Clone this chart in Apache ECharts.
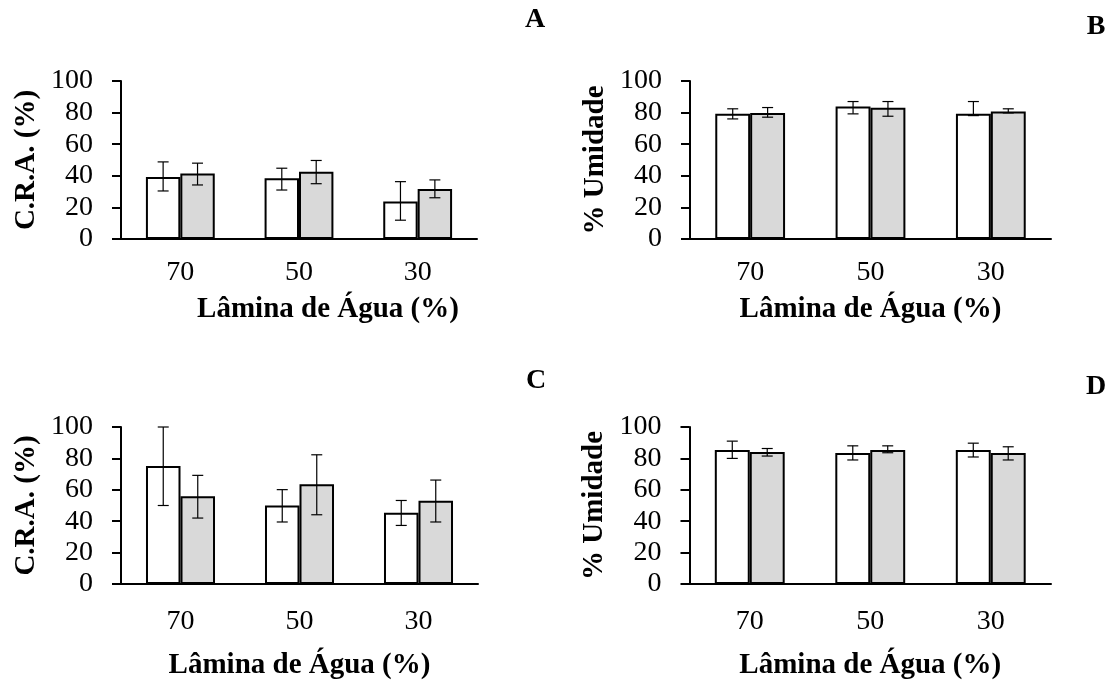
<!DOCTYPE html>
<html><head><meta charset="utf-8">
<script src="https://cdn.jsdelivr.net/npm/echarts@6/dist/echarts.min.js"></script>
<style>html,body{margin:0;padding:0;background:#fff}#c{width:1110px;height:681px}</style>
</head><body><div id="c"></div><script>
// ---- data ----
const categories = ['70', '50', '30'];
const yMin = 0, yMax = 100, yStep = 20;

// Panel A – C.R.A. (%)
const aWhite = [39.3, 38.4, 23.8];
const aWhiteErr = [[30.4, 48.8], [31.0, 44.8], [11.9, 36.3]];
const aGray = [41.4, 42.5, 31.6];
const aGrayErr = [[34.2, 48.0], [35.0, 49.7], [26.1, 37.4]];

// Panel B – % Umidade
const bWhite = [79.2, 83.9, 79.2];
const bWhiteErr = [[76.0, 82.4], [79.2, 87.0], [78.1, 87.0]];
const bGray = [79.8, 83.0, 80.7];
const bGrayErr = [[77.1, 83.2], [77.7, 87.0], [79.8, 82.4]];

// Panel C – C.R.A. (%)
const cWhite = [75.1, 50.0, 45.4];
const cWhiteErr = [[50.0, 100.0], [39.5, 60.1], [37.3, 53.2]];
const cGray = [55.9, 63.5, 53.0];
const cGrayErr = [[42.0, 69.2], [44.1, 82.3], [39.5, 66.2]];

// Panel D – % Umidade
const dWhite = [85.3, 83.4, 85.3];
const dWhiteErr = [[80.0, 91.0], [79.0, 88.0], [80.9, 89.7]];
const dGray = [84.0, 85.3, 83.4];
const dGrayErr = [[81.5, 86.3], [83.6, 88.0], [79.0, 87.4]];

const xTitle = 'Lâmina de Água (%)';
const yTitleCRA = 'C.R.A. (%)';
const yTitleUmid = '% Umidade';
const panelLetters = ['A', 'B', 'C', 'D'];

// ---- layout / style ----
const FONT = "'Liberation Serif', 'Times New Roman', serif";
const grids = [
  {left: 121, top: 81, width: 356, height: 158},
  {left: 690, top: 81, width: 361, height: 158},
  {left: 121, top: 427, width: 357, height: 158.5},
  {left: 689.5, top: 427, width: 361.5, height: 158.5}
];
const panels = [
  {white: aWhite, whiteErr: aWhiteErr, gray: aGray, grayErr: aGrayErr, yName: yTitleCRA, nameGap: 56, namePad: [0, 0, 0, 58], labelMargin: 20},
  {white: bWhite, whiteErr: bWhiteErr, gray: bGray, grayErr: bGrayErr, yName: yTitleUmid, nameGap: 56, namePad: [0, 0, 0, 0], labelMargin: 20},
  {white: cWhite, whiteErr: cWhiteErr, gray: cGray, grayErr: cGrayErr, yName: yTitleCRA, nameGap: 67, namePad: [0, 0, 0, 0], labelMargin: 24},
  {white: dWhite, whiteErr: dWhiteErr, gray: dGray, grayErr: dGrayErr, yName: yTitleUmid, nameGap: 67, namePad: [0, 0, 0, 0], labelMargin: 24}
];
const letterPos = [[535, 20], [1096, 27], [536, 381], [1096, 387]];

const axisLineStyle = {color: '#000', width: 2};

function errRender(sign) {
  return function (params, api) {
    const idx = api.value(0);
    const lo = api.coord([idx, api.value(1)]);
    const hi = api.coord([idx, api.value(2)]);
    const bw = api.size([1, 0])[0];
    const x = lo[0] + sign * bw * 0.145;
    const cap = 5.5;
    const st = {stroke: '#000', lineWidth: 1.2};
    return {type: 'group', children: [
      {type: 'line', shape: {x1: x, y1: lo[1], x2: x, y2: hi[1]}, style: st},
      {type: 'line', shape: {x1: x - cap, y1: hi[1], x2: x + cap, y2: hi[1]}, style: st},
      {type: 'line', shape: {x1: x - cap, y1: lo[1], x2: x + cap, y2: lo[1]}, style: st}
    ]};
  };
}

const xAxes = [], yAxes = [], series = [];
panels.forEach((p, i) => {
  xAxes.push({
    type: 'category', gridIndex: i, data: categories,
    axisLine: {lineStyle: axisLineStyle},
    axisTick: {length: 9, lineStyle: axisLineStyle},
    axisLabel: {fontSize: 28, fontFamily: FONT, color: '#000', margin: p.labelMargin},
    name: xTitle, nameLocation: 'middle', nameGap: p.nameGap,
    nameTextStyle: {fontSize: 29, fontWeight: 'bold', fontFamily: FONT, color: '#000', padding: p.namePad}
  });
  yAxes.push({
    type: 'value', gridIndex: i, min: yMin, max: yMax, interval: yStep,
    splitLine: {show: false},
    axisLine: {show: true, lineStyle: axisLineStyle},
    axisTick: {show: true, length: 9, lineStyle: axisLineStyle},
    axisLabel: {fontSize: 28, fontFamily: FONT, color: '#000', margin: 28},
    name: p.yName, nameLocation: 'middle', nameGap: 80, nameRotate: 90,
    nameTextStyle: {fontSize: 29, fontWeight: 'bold', fontFamily: FONT, color: '#000'}
  });
  series.push({
    type: 'bar', xAxisIndex: i, yAxisIndex: i, data: p.white,
    barWidth: '29%', barGap: '0%',
    itemStyle: {color: '#ffffff', borderColor: '#000', borderWidth: 2},
    silent: true
  });
  series.push({
    type: 'bar', xAxisIndex: i, yAxisIndex: i, data: p.gray,
    barWidth: '29%', barGap: '0%',
    itemStyle: {color: '#d9d9d9', borderColor: '#000', borderWidth: 2},
    silent: true
  });
  series.push({
    type: 'custom', xAxisIndex: i, yAxisIndex: i, z: 5,
    data: p.whiteErr.map((e, k) => [k, e[0], e[1]]),
    encode: {x: 0, y: [1, 2]}, renderItem: errRender(-1), silent: true
  });
  series.push({
    type: 'custom', xAxisIndex: i, yAxisIndex: i, z: 5,
    data: p.grayErr.map((e, k) => [k, e[0], e[1]]),
    encode: {x: 0, y: [1, 2]}, renderItem: errRender(1), silent: true
  });
});

const graphic = panelLetters.map((t, i) => ({
  type: 'text', x: letterPos[i][0], y: letterPos[i][1],
  style: {text: t, font: "bold 28px " + FONT, fill: '#000', align: 'center', verticalAlign: 'middle'}
}));

const chart = echarts.init(document.getElementById('c'), null, {renderer: 'canvas'});
chart.setOption({
  animation: false,
  backgroundColor: '#fff',
  grid: grids,
  xAxis: xAxes,
  yAxis: yAxes,
  series: series,
  graphic: graphic
});
</script></body></html>
